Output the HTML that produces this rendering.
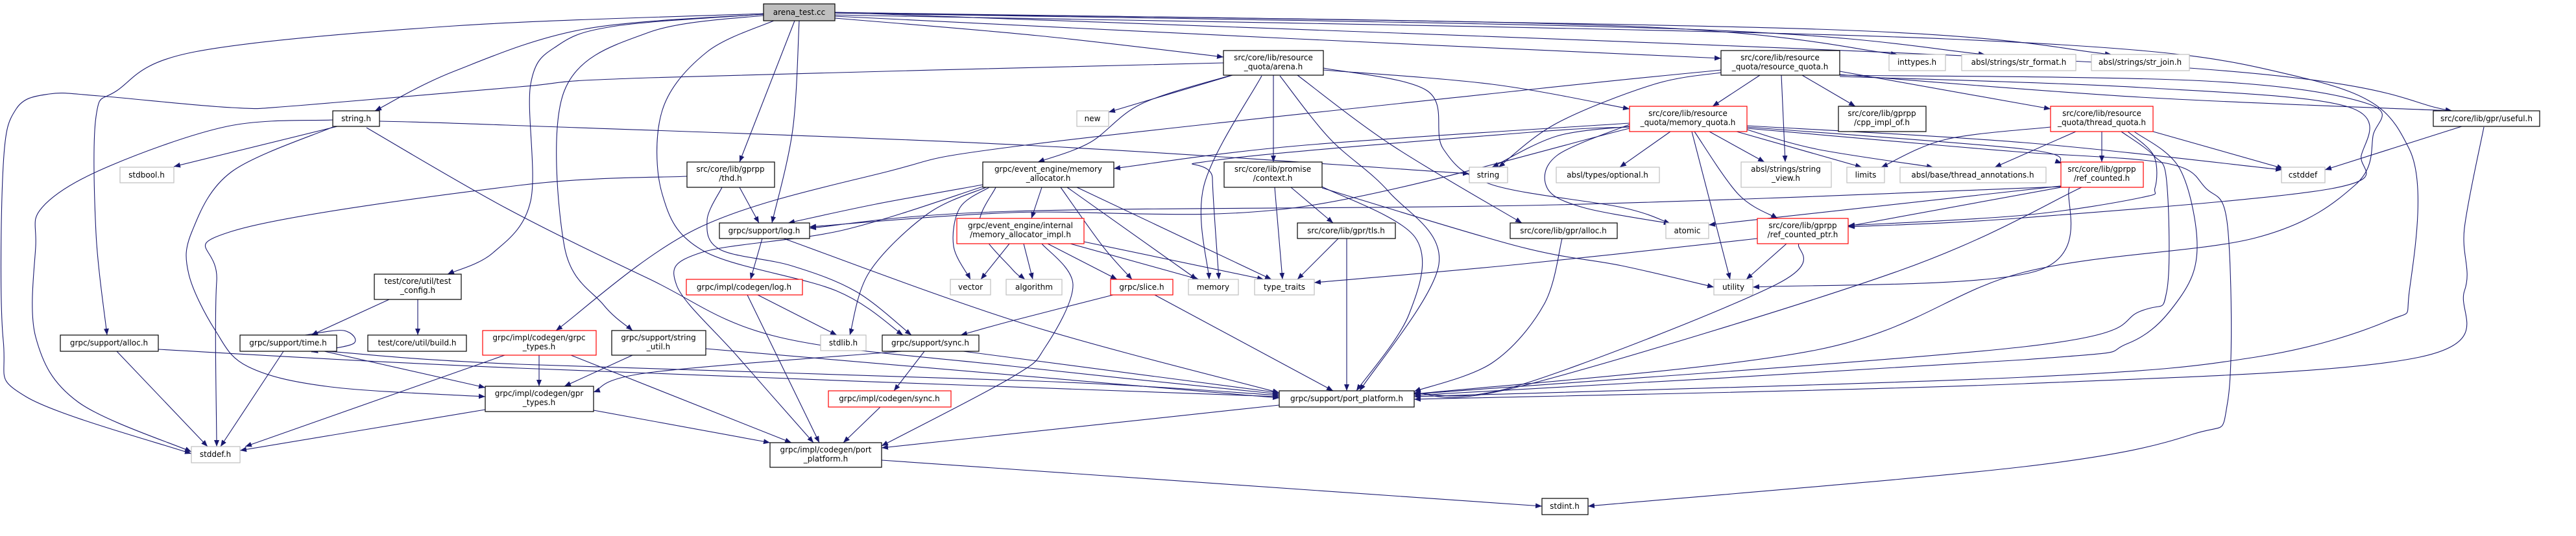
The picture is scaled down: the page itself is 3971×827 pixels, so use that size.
<!DOCTYPE html>
<html><head><meta charset="utf-8"><style>
html,body{margin:0;padding:0;background:#fff;}
svg{display:block;}
text{font-family:"DejaVu Sans","Liberation Sans",sans-serif;font-size:12px;fill:#000;}
</style></head><body>
<svg id="g" width="3971" height="827" viewBox="0 0 3971 827" xmlns="http://www.w3.org/2000/svg">
<defs><marker id="ah" markerUnits="userSpaceOnUse" markerWidth="11" markerHeight="8" refX="10" refY="4" orient="auto"><path d="M0,0 L10,4 L0,8 z" fill="#191970"/></marker></defs>
<g id="edges" fill="none" stroke="#191970" stroke-width="1.1"></g>
<g id="nodes" stroke-width="1.2">
<rect x="1177" y="6" width="110" height="26" fill="#bfbfbf" stroke="#000"/><text x="1232" y="23" text-anchor="middle">arena_test.cc</text>
<rect x="513" y="171" width="72" height="24" fill="#fff" stroke="#000"/><text x="549" y="187" text-anchor="middle">string.h</text>
<rect x="185" y="258" width="83" height="24" fill="#fff" stroke="#bfbfbf"/><text x="226" y="274" text-anchor="middle">stdbool.h</text>
<rect x="577" y="423" width="134" height="39" fill="#fff" stroke="#000"/><text x="644" y="438" text-anchor="middle">test/core/util/test</text><text x="644" y="452" text-anchor="middle">_config.h</text>
<rect x="93" y="517" width="151" height="25" fill="#fff" stroke="#000"/><text x="168" y="533" text-anchor="middle">grpc/support/alloc.h</text>
<rect x="370" y="517" width="149" height="25" fill="#fff" stroke="#000"/><text x="444" y="533" text-anchor="middle">grpc/support/time.h</text>
<rect x="567" y="517" width="152" height="25" fill="#fff" stroke="#000"/><text x="643" y="533" text-anchor="middle">test/core/util/build.h</text>
<rect x="295" y="689" width="75" height="25" fill="#fff" stroke="#bfbfbf"/><text x="332" y="705" text-anchor="middle">stddef.h</text>
<rect x="744" y="510" width="175" height="38" fill="#fff" stroke="#f00"/><text x="831" y="525" text-anchor="middle">grpc/impl/codegen/grpc</text><text x="831" y="539" text-anchor="middle">_types.h</text>
<rect x="748" y="596" width="167" height="39" fill="#fff" stroke="#000"/><text x="831" y="611" text-anchor="middle">grpc/impl/codegen/gpr</text><text x="831" y="625" text-anchor="middle">_types.h</text>
<rect x="1059" y="250" width="135" height="39" fill="#fff" stroke="#000"/><text x="1126" y="265" text-anchor="middle">src/core/lib/gprpp</text><text x="1126" y="279" text-anchor="middle">/thd.h</text>
<rect x="1109" y="344" width="139" height="24" fill="#fff" stroke="#000"/><text x="1178" y="360" text-anchor="middle">grpc/support/log.h</text>
<rect x="1058" y="431" width="179" height="24" fill="#fff" stroke="#f00"/><text x="1147" y="447" text-anchor="middle">grpc/impl/codegen/log.h</text>
<rect x="943" y="510" width="145" height="38" fill="#fff" stroke="#000"/><text x="1015" y="525" text-anchor="middle">grpc/support/string</text><text x="1015" y="539" text-anchor="middle">_util.h</text>
<rect x="1265" y="517" width="70" height="24" fill="#fff" stroke="#bfbfbf"/><text x="1300" y="533" text-anchor="middle">stdlib.h</text>
<rect x="1360" y="517" width="149" height="25" fill="#fff" stroke="#000"/><text x="1434" y="533" text-anchor="middle">grpc/support/sync.h</text>
<rect x="1277" y="603" width="189" height="25" fill="#fff" stroke="#f00"/><text x="1371" y="619" text-anchor="middle">grpc/impl/codegen/sync.h</text>
<rect x="1187" y="683" width="172" height="38" fill="#fff" stroke="#000"/><text x="1273" y="698" text-anchor="middle">grpc/impl/codegen/port</text><text x="1273" y="712" text-anchor="middle">_platform.h</text>
<rect x="1515" y="250" width="202" height="39" fill="#fff" stroke="#000"/><text x="1616" y="265" text-anchor="middle">grpc/event_engine/memory</text><text x="1616" y="279" text-anchor="middle">_allocator.h</text>
<rect x="1475" y="337" width="196" height="39" fill="#fff" stroke="#f00"/><text x="1573" y="352" text-anchor="middle">grpc/event_engine/internal</text><text x="1573" y="366" text-anchor="middle">/memory_allocator_impl.h</text>
<rect x="1465" y="431" width="62" height="24" fill="#fff" stroke="#bfbfbf"/><text x="1496" y="447" text-anchor="middle">vector</text>
<rect x="1551" y="431" width="86" height="24" fill="#fff" stroke="#bfbfbf"/><text x="1594" y="447" text-anchor="middle">algorithm</text>
<rect x="1660" y="171" width="49" height="24" fill="#fff" stroke="#bfbfbf"/><text x="1684" y="187" text-anchor="middle">new</text>
<rect x="1886" y="78" width="154" height="38" fill="#fff" stroke="#000"/><text x="1963" y="93" text-anchor="middle">src/core/lib/resource</text><text x="1963" y="107" text-anchor="middle">_quota/arena.h</text>
<rect x="1887" y="250" width="151" height="39" fill="#fff" stroke="#000"/><text x="1962" y="265" text-anchor="middle">src/core/lib/promise</text><text x="1962" y="279" text-anchor="middle">/context.h</text>
<rect x="2265" y="258" width="59" height="24" fill="#fff" stroke="#bfbfbf"/><text x="2294" y="274" text-anchor="middle">string</text>
<rect x="1712" y="431" width="96" height="24" fill="#fff" stroke="#f00"/><text x="1760" y="447" text-anchor="middle">grpc/slice.h</text>
<rect x="1832" y="431" width="77" height="24" fill="#fff" stroke="#bfbfbf"/><text x="1870" y="447" text-anchor="middle">memory</text>
<rect x="1934" y="431" width="92" height="24" fill="#fff" stroke="#bfbfbf"/><text x="1980" y="447" text-anchor="middle">type_traits</text>
<rect x="2000" y="344" width="151" height="24" fill="#fff" stroke="#000"/><text x="2075" y="360" text-anchor="middle">src/core/lib/gpr/tls.h</text>
<rect x="1972" y="603" width="208" height="25" fill="#fff" stroke="#000"/><text x="2076" y="619" text-anchor="middle">grpc/support/port_platform.h</text>
<rect x="2328" y="344" width="165" height="24" fill="#fff" stroke="#000"/><text x="2410" y="360" text-anchor="middle">src/core/lib/gpr/alloc.h</text>
<rect x="2653" y="78" width="183" height="38" fill="#fff" stroke="#000"/><text x="2744" y="93" text-anchor="middle">src/core/lib/resource</text><text x="2744" y="107" text-anchor="middle">_quota/resource_quota.h</text>
<rect x="2912" y="84" width="87" height="25" fill="#fff" stroke="#bfbfbf"/><text x="2955" y="100" text-anchor="middle">inttypes.h</text>
<rect x="3024" y="84" width="176" height="25" fill="#fff" stroke="#bfbfbf"/><text x="3112" y="100" text-anchor="middle">absl/strings/str_format.h</text>
<rect x="3224" y="84" width="151" height="25" fill="#fff" stroke="#bfbfbf"/><text x="3299" y="100" text-anchor="middle">absl/strings/str_join.h</text>
<rect x="2512" y="164" width="181" height="39" fill="#fff" stroke="#f00"/><text x="2602" y="179" text-anchor="middle">src/core/lib/resource</text><text x="2602" y="193" text-anchor="middle">_quota/memory_quota.h</text>
<rect x="2834" y="164" width="135" height="39" fill="#fff" stroke="#000"/><text x="2901" y="179" text-anchor="middle">src/core/lib/gprpp</text><text x="2901" y="193" text-anchor="middle">/cpp_impl_of.h</text>
<rect x="2399" y="258" width="159" height="24" fill="#fff" stroke="#bfbfbf"/><text x="2478" y="274" text-anchor="middle">absl/types/optional.h</text>
<rect x="2684" y="250" width="139" height="39" fill="#fff" stroke="#bfbfbf"/><text x="2753" y="265" text-anchor="middle">absl/strings/string</text><text x="2753" y="279" text-anchor="middle">_view.h</text>
<rect x="2847" y="258" width="58" height="24" fill="#fff" stroke="#bfbfbf"/><text x="2876" y="274" text-anchor="middle">limits</text>
<rect x="2929" y="258" width="225" height="24" fill="#fff" stroke="#bfbfbf"/><text x="3041" y="274" text-anchor="middle">absl/base/thread_annotations.h</text>
<rect x="2568" y="344" width="66" height="24" fill="#fff" stroke="#bfbfbf"/><text x="2601" y="360" text-anchor="middle">atomic</text>
<rect x="2709" y="337" width="140" height="39" fill="#fff" stroke="#f00"/><text x="2779" y="352" text-anchor="middle">src/core/lib/gprpp</text><text x="2779" y="366" text-anchor="middle">/ref_counted_ptr.h</text>
<rect x="2642" y="431" width="60" height="24" fill="#fff" stroke="#bfbfbf"/><text x="2672" y="447" text-anchor="middle">utility</text>
<rect x="2377" y="769" width="71" height="25" fill="#fff" stroke="#000"/><text x="2412" y="785" text-anchor="middle">stdint.h</text>
<rect x="3161" y="164" width="158" height="39" fill="#fff" stroke="#f00"/><text x="3240" y="179" text-anchor="middle">src/core/lib/resource</text><text x="3240" y="193" text-anchor="middle">_quota/thread_quota.h</text>
<rect x="3177" y="250" width="127" height="39" fill="#fff" stroke="#f00"/><text x="3240" y="265" text-anchor="middle">src/core/lib/gprpp</text><text x="3240" y="279" text-anchor="middle">/ref_counted.h</text>
<rect x="3517" y="258" width="67" height="24" fill="#fff" stroke="#bfbfbf"/><text x="3550" y="274" text-anchor="middle">cstddef</text>
<rect x="3751" y="171" width="164" height="24" fill="#fff" stroke="#000"/><text x="3833" y="187" text-anchor="middle">src/core/lib/gpr/useful.h</text>
</g>
</svg>
<script>
var E=[
[[1177,22],[900,45],[700,110],[578,171]],
[[1177,21],[700,40],[300,80],[180,140],[148,180],[148,360],[165,517]],
[[1177,22],[950,40],[860,70],[818,130],[818,310],[760,390],[690,423]],
[[1185,23],[1000,50],[870,140],[870,380],[930,470],[975,510]],
[[1195,31],[1090,80],[1021,170],[1021,300],[1086,388],[1290,449],[1392,517]],
[[1225,32],[1140,250]],
[[1232,32],[1222,200],[1190,344]],
[[1287,28],[1600,55],[1886,88]],
[[1287,25],[2000,60],[2653,90]],
[[1287,20],[2500,40],[2925,84]],
[[1287,20],[2600,45],[3060,84]],
[[1287,19],[2800,45],[3255,84]],
[[1287,19],[3300,100],[3780,171]],
[[1287,23],[3000,60],[3550,120],[3714,230],[3714,450],[3681,495],[3477,551],[3120,582],[2180,612]],
[[513,185],[350,195],[160,260],[65,320],[55,380],[55,520],[120,620],[295,697]],
[[1886,97],[1000,120],[800,134],[459,163],[357,166],[153,148],[76,145],[25,168],[5,255],[5,525],[40,612],[295,700]],
[[520,195],[268,257]],
[[513,196],[357,265],[296,357],[291,423],[332,510],[383,566],[510,597],[748,612]],
[[585,187],[780,193],[1580,224],[2265,268]],
[[565,197],[780,321],[1000,430],[1200,520],[1560,565],[1972,608]],
[[470,517],[530,510],[545,530],[480,543]],
[[437,542],[340,689]],
[[500,542],[748,598]],
[[505,542],[800,562],[1600,588],[1972,610]],
[[180,542],[320,689]],
[[244,539],[800,568],[1972,612]],
[[600,462],[480,517]],
[[644,462],[644,517]],
[[778,548],[378,689]],
[[831,548],[831,596]],
[[880,548],[1220,683]],
[[748,632],[370,695]],
[[915,633],[1187,683]],
[[975,548],[870,596]],
[[1088,538],[1972,614]],
[[1059,272],[800,286],[357,357],[334,434],[334,689]],
[[1140,289],[1170,344]],
[[1113,289],[1090,340],[1110,385],[1220,410],[1320,450],[1405,517]],
[[1175,368],[1157,431]],
[[1208,368],[1580,500],[1972,606]],
[[1168,455],[1290,517]],
[[1152,455],[1263,683]],
[[1390,542],[1000,575],[915,605]],
[[1425,542],[1378,603]],
[[1485,542],[1972,606]],
[[1357,628],[1300,683]],
[[1359,710],[2377,781]],
[[1515,285],[1350,315],[1215,344]],
[[1525,289],[1480,320],[1470,380],[1496,431]],
[[1535,289],[1510,350],[1560,415],[1580,431]],
[[1606,289],[1590,337]],
[[1635,289],[1700,380],[1745,431]],
[[1645,289],[1845,431]],
[[1660,289],[1960,431]],
[[1520,289],[1430,330],[1340,420],[1310,517]],
[[1515,288],[1300,355],[1080,390],[1043,440],[1137,550],[1254,683]],
[[1556,376],[1512,431]],
[[1578,376],[1592,431]],
[[1615,376],[1722,431]],
[[1650,376],[1848,431]],
[[1671,373],[1948,431]],
[[1606,376],[1654,439],[1611,536],[1560,582],[1359,688]],
[[1716,455],[1560,495],[1481,517]],
[[1780,455],[2055,603]],
[[1965,289],[1977,431]],
[[1990,289],[2055,344]],
[[2038,288],[2182,367],[2172,485],[2091,603]],
[[2038,290],[2340,380],[2500,410],[2642,443]],
[[2063,368],[2000,431]],
[[2076,368],[2076,603]],
[[1900,116],[1709,173]],
[[1898,116],[1760,160],[1680,220],[1600,250]],
[[1945,117],[1856,286],[1864,431]],
[[1963,116],[1963,250]],
[[1973,117],[2050,214],[2141,296],[2218,408],[2096,603]],
[[2000,116],[2147,225],[2346,344]],
[[2040,105],[2200,140],[2225,230],[2300,285],[2500,320],[2575,345]],
[[2040,108],[2300,130],[2512,168]],
[[2713,116],[2640,164]],
[[2746,116],[2752,250]],
[[2778,116],[2860,164]],
[[2653,112],[2550,130],[2400,190],[2310,258]],
[[2512,195],[2400,210],[2300,258]],
[[2653,108],[2360,138],[1580,224],[1367,265],[1076,352],[857,510]],
[[2836,110],[3161,168]],
[[2836,115],[3300,150],[3780,171]],
[[2836,118],[3300,135],[3620,165],[3640,240],[3594,291],[3120,336],[2849,350]],
[[2836,116],[3400,125],[3650,160],[3658,210],[3630,286],[3477,367],[3120,420],[2800,540],[2180,608]],
[[3795,195],[3584,262]],
[[3829,196],[3799,352],[3799,449],[3730,551],[3120,592],[2180,616]],
[[3240,203],[3240,250]],
[[3319,203],[3520,260]],
[[3200,203],[3075,258]],
[[3161,196],[3000,215],[2900,258]],
[[3270,203],[3320,240],[3340,280],[3340,450],[3300,480],[3120,535],[2180,608]],
[[3280,203],[3320,240],[3322,290],[3300,305],[3120,332],[2849,348]],
[[3290,203],[3360,260],[3387,380],[3360,460],[3280,530],[3120,555],[2180,610]],
[[2575,203],[2497,258]],
[[2635,203],[2720,250]],
[[2677,203],[2870,258]],
[[2693,200],[2800,230],[2980,258]],
[[2608,203],[2667,431]],
[[2612,203],[2680,300],[2740,337]],
[[2512,192],[2400,240],[2385,290],[2440,320],[2575,345]],
[[2512,190],[2000,225],[1717,260]],
[[2512,196],[2360,204],[1876,247],[1869,275],[1879,431]],
[[2512,198],[2000,320],[1560,328],[1248,350]],
[[2693,194],[3120,220],[3518,262]],
[[2693,196],[3120,230],[3178,252]],
[[2693,198],[3000,225],[3120,235],[3340,252],[3400,290],[3434,350],[3434,620],[3380,670],[3120,720],[2448,781]],
[[3177,287],[2634,347]],
[[3177,289],[2849,349]],
[[3177,288],[2400,316],[1560,326],[1248,352]],
[[3209,289],[2927,418],[2340,597],[2180,606]],
[[3190,289],[3140,418],[2702,443]],
[[2754,376],[2692,431]],
[[2709,368],[2340,408],[2026,436]],
[[2773,376],[2738,439],[2340,595],[2180,607]],
[[2408,368],[2380,470],[2300,560],[2180,604]],
[[1972,625],[1359,691]]
];
var NS="http://www.w3.org/2000/svg",g=document.getElementById("edges");
E.forEach(function(p){
 var d="M"+p[0][0]+","+p[0][1];
 if(p.length==2){d+=" L"+p[1][0]+","+p[1][1];}
 else for(var i=0;i<p.length-1;i++){
  var a=p[i-1]||p[i],b=p[i],c=p[i+1],e=p[i+2]||p[i+1];
  var c1x=b[0]+(c[0]-a[0])/6,c1y=b[1]+(c[1]-a[1])/6,c2x=c[0]-(e[0]-b[0])/6,c2y=c[1]-(e[1]-b[1])/6;
  d+=" C"+c1x.toFixed(1)+","+c1y.toFixed(1)+" "+c2x.toFixed(1)+","+c2y.toFixed(1)+" "+c[0]+","+c[1];
 }
 var el=document.createElementNS(NS,"path");el.setAttribute("d",d);el.setAttribute("marker-end","url(#ah)");g.appendChild(el);
});
</script>
</body></html>
